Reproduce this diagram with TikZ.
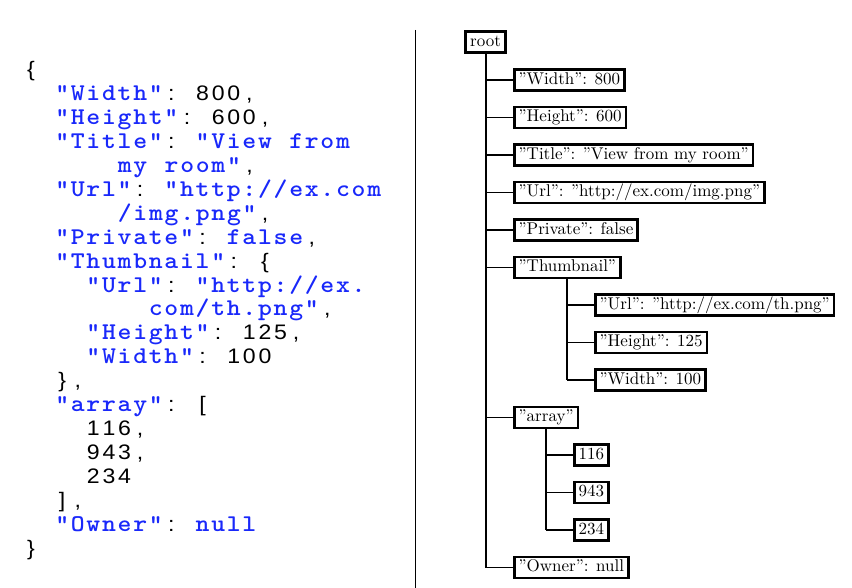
\documentclass[tikz,border=0pt]{standalone}
\usepackage{graphicx}
\usepackage{fontspec}
\newfontfamily\jsans{Liberation Sans}
\newfontfamily\jtree{lmroman10-regular}[Extension=.otf]
\definecolor{jblue}{RGB}{25,40,250}
\newlength\jpitch \setlength\jpitch{7.8pt}
\let\jmend\relax
\def\jmloop#1{\ifx#1\jmend\else\makebox[\jpitch]{\scalebox{1.1}[1]{#1}}\expandafter\jmloop\fi}
\newcommand\jm[1]{\jmloop#1\jmend}
\newcommand\K[1]{{\color{jblue}\fontsize{12}{14}\selectfont\ttfamily\bfseries\jm{#1}}}
\newcommand\B[1]{{\fontsize{10.5}{12}\selectfont\jsans\jm{#1}}}
\tikzset{
  codeline/.style={anchor=base west, inner sep=0pt, outer sep=0pt},
  tbox/.style={draw, line width=1.3pt, inner xsep=2.2pt, inner ysep=1.2pt,
    text height=6.3pt, text depth=1.9pt, anchor=west, font=\jtree\fontsize{8.5}{10}\selectfont},
  vline/.style={line width=1pt},
  hline/.style={line width=0.7pt},
}
\begin{document}
\begin{tikzpicture}[x=0.5pt, y=-0.5pt]
\useasboundingbox (0,0) rectangle (852,588);
% code listing: column k left = 23.2 + 15.6k ; line i baseline = 77 + 23.9 i
\node[codeline] (l0)  at (23.2, 77.0)  {\B{\{}};
\node[codeline] (l1)  at (54.4, 100.9) {\K{"Width"}\B{:~800,}};
\node[codeline] (l2)  at (54.4, 124.8) {\K{"Height"}\B{:~600,}};
\node[codeline] (l3)  at (54.4, 148.7) {\K{"Title"}\B{:~}\K{"View~from}};
\node[codeline] (l4)  at (117.0, 172.6) {\K{my~room"}\B{,}};
\node[codeline] (l5)  at (54.4, 196.5) {\K{"Url"}\B{:~}\K{"http://ex.com}};
\node[codeline] (l6)  at (117.0, 220.4) {\K{/img.png"}\B{,}};
\node[codeline] (l7)  at (54.4, 244.3) {\K{"Private"}\B{:~}\K{false}\B{,}};
\node[codeline] (l8)  at (54.4, 268.2) {\K{"Thumbnail"}\B{:~\{}};
\node[codeline] (l9)  at (85.6, 292.1) {\K{"Url"}\B{:~}\K{"http://ex.}};
\node[codeline] (l10) at (148.0, 316.0) {\K{com/th.png"}\B{,}};
\node[codeline] (l11) at (85.6, 339.9) {\K{"Height"}\B{:~125,}};
\node[codeline] (l12) at (85.6, 363.8) {\K{"Width"}\B{:~100}};
\node[codeline] (l13) at (54.4, 387.7) {\B{\},}};
\node[codeline] (l14) at (54.4, 411.6) {\K{"array"}\B{:~[}};
\node[codeline] (l15) at (85.6, 435.5) {\B{116,}};
\node[codeline] (l16) at (85.6, 459.4) {\B{943,}};
\node[codeline] (l17) at (85.6, 483.3) {\B{234}};
\node[codeline] (l18) at (54.4, 507.2) {\B{],}};
\node[codeline] (l19) at (54.4, 531.1) {\K{"Owner"}\B{:~}\K{null}};
\node[codeline] (l20) at (23.2, 555.0) {\B{\}}};
% separator
\coordinate (septop) at (415,30);
\coordinate (sepbot) at (415,588);
\draw[line width=0.5pt] (septop) -- (sepbot);
% tree
\node[tbox, anchor=center] (root) at (485.5,42) {root};
\node[tbox] (w)   at (513,80)    {”Width”: 800};
\node[tbox] (h)   at (513,117.5) {”Height”: 600};
\node[tbox] (t)   at (513,155)   {”Title”: ”View from my room”};
\node[tbox] (u)   at (513,192.5) {”Url”: ”http://ex.com/img.png”};
\node[tbox] (p)   at (513,230)   {”Private”: false};
\node[tbox] (th)  at (513,267.5) {”Thumbnail”};
\node[tbox] (tu)  at (594,305)   {”Url”: ”http://ex.com/th.png”};
\node[tbox] (thh) at (594,342.5) {”Height”: 125};
\node[tbox] (thw) at (594,380)   {”Width”: 100};
\node[tbox] (ar)  at (513,417.5) {”array”};
\node[tbox] (a1)  at (573,455)   {116};
\node[tbox] (a2)  at (573,492.5) {943};
\node[tbox] (a3)  at (573,530)   {234};
\node[tbox] (ow)  at (513,567.5) {”Owner”: null};
\draw[vline] (root.south) -- (root.south |- ow.west);
\draw[vline] (th.south) -- (th.south |- thw.west);
\draw[vline] (ar.south) -- (ar.south |- a3.west);
\foreach \c in {w,h,t,u,p,th,ar,ow} \draw[hline] (root.south |- \c.west) -- (\c.west);
\foreach \c in {tu,thh,thw} \draw[hline] (th.south |- \c.west) -- (\c.west);
\foreach \c in {a1,a2,a3} \draw[hline] (ar.south |- \c.west) -- (\c.west);
\end{tikzpicture}
\end{document}
